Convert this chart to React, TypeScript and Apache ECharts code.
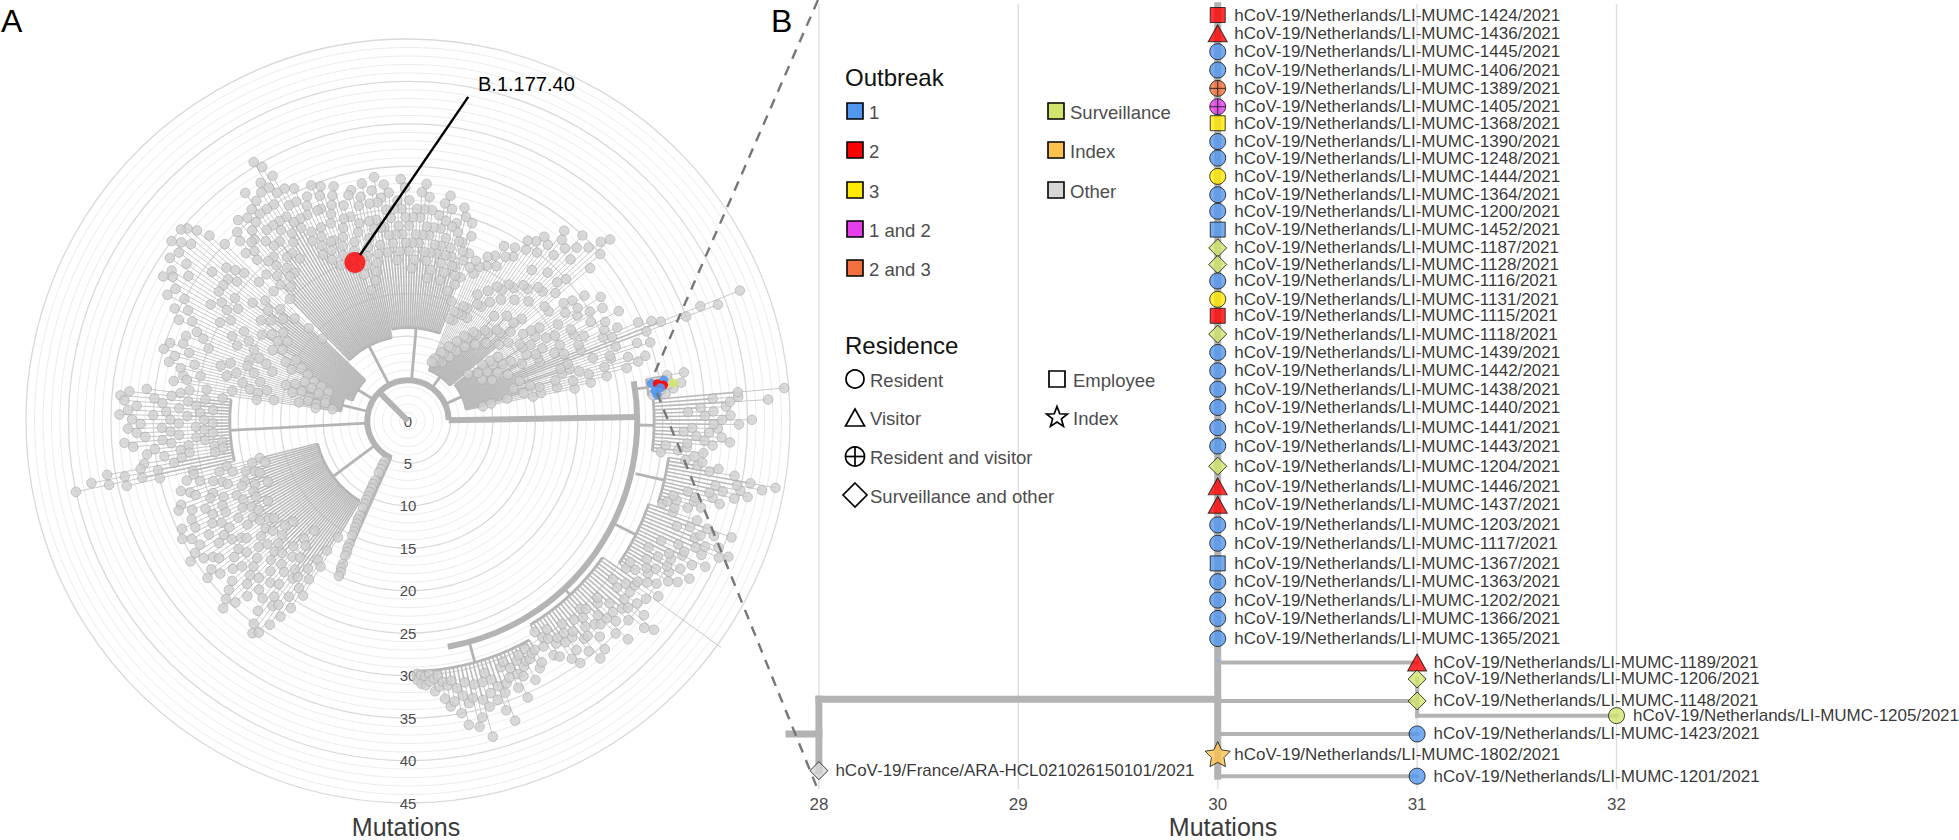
import React, { useEffect, useRef } from 'react';
import * as echarts from 'echarts';

const FONT = '"Liberation Sans", Arial, Helvetica, sans-serif';

// ---------------- Panel A: circular tree (radius = mutations, angle = degrees counter-clockwise from the south axis) ----------------
const cladeSpan: number[][] = [
  [2, 29], [31, 55], [56, 71], [72, 82], [83, 95], [96, 100], [101, 128], [130, 158],
  [160, 190], [191, 224], [226, 250], [251, 262], [263, 283], [284, 329], [330, 336],
];
const cladeBaseR = [27, 27, 27, 27.5, 27, 27, 4.8, 4.8, 4.8, 4.8, 4.8, 4.8, 4.8, 4.8, 4.8];
const cladeArcR = [29.5, 28, 30, 31, 29, 28.5, 7, 6.5, 11, 10, 7, 8, 21, 11, 4.8];
const cladeTipR: number[][] = [
  [30.5, 31, 31.2, 30.8, 32, 31.5, 33, 34, 33.5, 35, 36.5, 34, 37, 36, 38.5, 35, 33.5, 34.5, 36, 37.5, 33, 32.5, 34, 35.5, 33, 32, 34, 31.5, 33, 32.5],
  [31, 32.5, 33, 31.5, 34, 35, 33.5, 32, 34.5, 36, 33, 35.5, 34, 32.5, 33, 35, 36.5, 34, 33, 35, 37, 38, 36, 34.5, 33, 35, 45.5, 36],
  [34, 35, 33.5, 36, 37, 35.5, 38, 36.5, 35, 37.5, 39, 36, 38, 40, 41, 39.5, 37, 38.5, 40.5, 36],
  [33, 34.5, 36, 35, 38, 37, 39.5, 41, 40, 42.5, 44, 39, 37, 35],
  [34, 35, 33, 36, 38, 37, 35.5, 36.5, 39, 40.5, 38, 36, 37.5, 42.5, 39, 44.5],
  [30.5, 31.5, 32.5, 31, 33],
  [20, 22, 24, 26.5, 28, 29, 27, 25, 30, 28.5, 26, 39, 42, 31, 29.5, 27, 25.5, 23, 26, 28, 24.5, 22, 26.5, 25, 23.5, 27, 24, 22.5, 25.5, 24, 23, 21],
  [28, 30, 32, 31, 29.5, 27, 28.5, 30, 27.5, 26, 28, 29, 26.5, 25, 27, 26, 24.5, 25.5, 23, 24, 22.5, 21, 23.5, 22, 20.5, 21.5, 20, 19, 20.5, 19.5],
  [21, 23, 24.5, 22, 25, 26, 24, 23.5, 25.5, 27, 26, 24.5, 23, 25, 26.5, 28, 27, 25, 24, 26, 27.5, 28.5, 26, 25, 27, 28, 26.5, 29, 27.5, 26],
  [28.5, 27, 26, 28, 27.5, 25, 26.5, 29, 28, 27, 29.5, 28.5, 30, 27, 29, 28, 30.5, 29, 31, 33, 34.5, 35.5, 33, 32, 30, 31.5, 33, 31, 29.5, 30.5, 29, 31, 28, 30, 29, 27.5],
  [30, 32, 33.5, 34.5, 35, 33, 34, 35, 33.5, 32, 34, 31, 33, 32.5, 33.5, 31.5, 30, 32, 29, 30.5, 28, 29.5, 27, 26, 28, 25],
  [28, 29.5, 27, 30, 28.5, 26, 29, 27.5, 25, 27, 26.5, 28, 24, 26],
  [31, 33, 34, 33.5, 32, 33, 34, 32.5, 31.5, 33, 32, 31, 33.5, 32.5, 30, 31, 29, 31.5, 36, 38, 40, 34],
  [26, 27, 25.5, 28, 27, 26.5, 28.5, 29, 27.5, 26, 28, 29.5, 28, 30, 29, 27, 28.5, 29.5, 30.5, 29, 28, 27.5, 29, 30, 28.5, 27, 26, 28, 29, 30, 31, 29.5, 28, 26.5, 25, 27, 28.5, 30, 31, 30.5, 29, 27.5, 26, 24],
  [6, 7, 8.5, 9.5, 10.5, 11.5, 13, 14, 15, 16.5, 17.5, 19, 20],
];
// internal node radii along each tip's branch (first level)
const cladeNodeR: number[][] = [
  [29.8, 30, 30.2, 29.9, 30.5, 30.2, 31, 31.5, 31, 32, 33, 31.5, 33.5, 32, 34, 32, 31, 32, 33, 34, 31, 30.5, 31.5, 32.5, 31, 30.5, 31.5, 30.2, 31, 30.8],
  [29, 30, 30.5, 29.5, 31, 32, 31, 30, 31.5, 33, 30.5, 32, 31, 30, 30.5, 32, 33, 31, 30.5, 32, 33.5, 34, 33, 31.5, 30.5, 32, 33, 33],
  [31, 32, 31, 33, 34, 32.5, 35, 33.5, 32, 34.5, 36, 33, 35, 37, 38, 36.5, 34, 35.5, 37.5, 33],
  [31.5, 32, 33, 32.5, 35, 34, 36.5, 38, 37, 39.5, 41, 36, 34.5, 33],
  [30, 32, 30.5, 33, 35, 34, 32.5, 33.5, 36, 37, 35, 33, 34.5, 38, 36, 39],
  [29, 30, 31, 29.5, 31],
  [9, 10, 12, 14, 16, 18, 15, 13, 20, 19, 14, 30, 32, 22, 20, 17, 13, 11, 15, 17, 12, 10, 14, 13, 11, 16, 12, 10, 13, 12, 11, 9],
  [14, 16, 18, 17, 15, 13, 15, 17, 14, 12, 14, 16, 13, 11, 13, 12, 10, 12, 9, 11, 10, 8, 10, 9, 8, 9, 8, 7.5, 8, 7.5],
  [15, 17, 18, 16, 19, 20, 18, 17, 19, 21, 20, 18, 17, 19, 20, 22, 21, 19, 18, 20, 21, 22, 20, 19, 21, 22, 20, 23, 21, 20],
  [19, 18, 17, 20, 19, 16, 18, 21, 20, 19, 22, 21, 23, 20, 22, 21, 23, 22, 24, 26, 27, 28, 26, 25, 23, 24, 26, 24, 22, 23, 22, 24, 21, 23, 22, 20],
  [14, 16, 18, 20, 22, 19, 21, 23, 20, 18, 21, 17, 19, 18, 20, 17, 15, 18, 14, 16, 13, 15, 12, 11, 13, 10],
  [12, 14, 11, 15, 13, 10, 14, 12, 10, 12, 11, 13, 9, 11],
  [22, 24, 26, 25, 23, 24.5, 26, 24, 23, 25, 24, 23, 25, 24, 22, 23, 22, 23, 28, 30, 32, 26],
  [18, 19, 17.5, 20, 19, 18.5, 20.5, 21, 19.5, 18, 20, 21.5, 20, 22, 21, 19, 20.5, 21.5, 22.5, 21, 20, 19.5, 21, 22, 20.5, 19, 18, 20, 21, 22, 23, 21.5, 20, 18.5, 17, 19, 20.5, 22, 23, 22.5, 21, 19.5, 18, 16],
  [5.5, 6.5, 8, 9, 10, 11, 12.5, 13.5, 14.5, 16, 17, 18.5, 19.5],
];
// internal node radii along each tip's branch (second level)
const cladeNode2R: number[][] = [
  [], [], [], [], [], [],
  [15, 16, 18, 20, 22, 24, 21, 19, 25, 23, 20, 35, 37, 26, 25, 22, 19, 17, 20, 22, 18, 16, 20, 19, 17, 21, 18, 16, 19, 18, 17, 15],
  [21, 23, 25, 24, 22, 20, 22, 24, 21, 19, 21, 23, 20, 18, 20, 19, 17, 19, 16, 18, 16, 14, 17, 15, 14, 15, 14, 13, 14, 13],
  [18, 20, 21, 19, 22, 23, 21, 20, 22, 24, 23, 21, 20, 22, 23, 25, 24, 22, 21, 23, 24, 25, 23, 22, 24, 25, 23, 26, 24, 23],
  [24, 22, 21, 24, 23, 20, 22, 25, 24, 23, 26, 25, 27, 23, 25, 24, 27, 25, 27, 29, 31, 32, 30, 28, 27, 28, 30, 28, 26, 27, 25, 28, 25, 27, 26, 24],
  [22, 24, 26, 27, 28, 26, 27, 29, 27, 25, 27, 24, 26, 25, 27, 24, 22, 25, 21, 23, 20, 22, 19, 18, 20, 17],
  [20, 22, 19, 23, 21, 18, 22, 20, 17, 19, 18, 21, 16, 18],
  [27, 28, 30, 29, 27, 28.5, 30, 28, 27, 29, 28, 27, 29, 28, 26, 27, 26, 27, 32, 34, 36, 30],
  [22, 23, 21.5, 24, 23, 22.5, 24.5, 25, 23.5, 22, 24, 25.5, 24, 26, 25, 23, 24.5, 25.5, 26.5, 25, 24, 23.5, 25, 26, 24.5, 23, 22, 24, 25, 26, 27, 25.5, 24, 22.5, 21, 23, 24.5, 26, 27, 26.5, 25, 23.5, 22, 20],
  [],
];
// backbone arcs [radius, angleFrom, angleTo] and rays [angle, radiusFrom, radiusTo]
const backboneArcs: number[][] = [[4.8, 91, 336], [27, 10, 100]];
const backboneRays: number[][] = [[225, 0, 4.8], [91, 4.8, 27]];
// outbreak samples highlighted in panel A
const outbreakTipR = [29.0, 30.5, 31.6, 30.4, 29.5, 29.7, 29.3, 30.0];
const outbreakTipAngle = [98.8, 99.1, 98.1, 98.0, 96.0, 98.5, 97.0, 97.5];
const outbreakTipGroup = ['1', '1', 'Surveillance', '2', '1', '2', '1', '1'];
const lineageMarker = [19.7, 198.5];
const lineageName = 'B.1.177.40';

// ---------------- Panel B: zoomed tree ----------------
const bTipIds = ['1424', '1436', '1445', '1406', '1389', '1405', '1368', '1390', '1248', '1444', '1364', '1200', '1452', '1187', '1128', '1116', '1131', '1115', '1118', '1439', '1442', '1438', '1440', '1441', '1443', '1204', '1446', '1437', '1203', '1117', '1367', '1363', '1202', '1366', '1365', '1189', '1206', '1148', '1205', '1423', '1802', '1201', 'FR'];
const bTipX = [30, 30, 30, 30, 30, 30, 30, 30, 30, 30, 30, 30, 30, 30, 30, 30, 30, 30, 30, 30, 30, 30, 30, 30, 30, 30, 30, 30, 30, 30, 30, 30, 30, 30, 30, 31, 31, 31, 32, 31, 30, 31, 28];
const bTipRow = [1.0, 2.0, 3.0, 4.0, 5.0, 6.0, 6.9, 7.9, 8.8, 9.8, 10.8, 11.7, 12.7, 13.7, 14.6, 15.5, 16.5, 17.4, 18.4, 19.4, 20.4, 21.4, 22.4, 23.5, 24.5, 25.6, 26.7, 27.7, 28.8, 29.8, 30.9, 31.9, 32.9, 33.9, 35.0, 36.3, 37.2, 38.4, 39.2, 40.2, 41.3, 42.5, 42.2];
const bTipOutbreak = ['2', '2', '1', '1', '2 and 3', '1 and 2', '3', '1', '1', '3', '1', '1', '1', 'Surveillance', 'Surveillance', '1', '3', '2', 'Surveillance', '1', '1', '1', '1', '1', '1', 'Surveillance', '2', '2', '1', '1', '1', '1', '1', '1', '1', '2', 'Surveillance', 'Surveillance', 'Surveillance', '1', 'Index', '1', 'Other'];
const bTipResidence = ['Employee', 'Visitor', 'Resident', 'Resident', 'Resident and visitor', 'Resident and visitor', 'Employee', 'Resident', 'Resident', 'Resident', 'Resident', 'Resident', 'Employee', 'Surveillance and other', 'Surveillance and other', 'Resident', 'Resident', 'Employee', 'Surveillance and other', 'Resident', 'Resident', 'Resident', 'Resident', 'Resident', 'Resident', 'Surveillance and other', 'Visitor', 'Visitor', 'Resident', 'Resident', 'Employee', 'Resident', 'Resident', 'Resident', 'Resident', 'Visitor', 'Surveillance and other', 'Surveillance and other', 'Resident', 'Resident', 'Index', 'Resident', 'Surveillance and other'];
const franceLabel = 'hCoV-19/France/ARA-HCL021026150101/2021';
const bTrunk: number[][] = [[27.85, 40.2, 28, 40.2], [28, 38.3, 28, 42.2], [28, 38.3, 30, 38.3], [30, 0.5, 30, 42.5]];
const bTwigs: number[][] = [[30, 36.3, 31, 36.3], [30, 38.4, 31, 38.4], [31, 37.2, 31, 39.2], [31, 39.2, 32, 39.2], [30, 40.2, 31, 40.2], [30, 42.5, 31, 42.5]];
const bInnerNode = [30, 36.2];
const bGridX = [28, 29, 30, 31, 32];
const bTickLabels = [28, 29, 30, 31, 32];

// ---------------- legend ----------------
const outbreakNames = ['1', '2', '3', '1 and 2', '2 and 3', 'Surveillance', 'Index', 'Other'];
const outbreakColors = ['#5297ee', '#ff0000', '#ffea00', '#e43fea', '#f2703f', '#d3e46c', '#fcc24d', '#d6d6d6'];
const residenceNames = ['Resident', 'Visitor', 'Resident and visitor', 'Surveillance and other', 'Employee', 'Index'];

const STAR = 'path://M0,-10L2.94,-4.05L9.51,-3.09L4.76,1.55L5.88,8.09L0,5L-5.88,8.09L-4.76,1.55L-9.51,-3.09L-2.94,-4.05Z';
const CPLUS = 'path://M10,0A10,10,0,1,1,-10,0A10,10,0,1,1,10,0ZM0,-10L0,10M-10,0L10,0';
const residenceSymbol: Record<string, [string, number | number[]]> = {
  'Resident': ['circle', 16],
  'Visitor': ['triangle', [19, 17]],
  'Resident and visitor': [CPLUS, 16],
  'Surveillance and other': ['diamond', 18],
  'Employee': ['rect', 15],
  'Index': [STAR, 25],
};

const colorOf = (g: string) => outbreakColors[outbreakNames.indexOf(g)];

function txt(text: string, x: number, y: number, size: number, fill: string, align = 'left') {
  return {
    type: 'text', x, y, z: 100, silent: true,
    style: { text, fontSize: size, fontFamily: FONT, fill, align, verticalAlign: 'middle', textAlign: align, textVerticalAlign: 'middle' },
  };
}

function starPoints(cx: number, cy: number, ro: number, ri: number) {
  const pts: number[][] = [];
  for (let k = 0; k < 10; k++) {
    const r = k % 2 === 0 ? ro : ri;
    const a = -Math.PI / 2 + (k * Math.PI) / 5;
    pts.push([cx + r * Math.cos(a), cy + r * Math.sin(a)]);
  }
  return pts;
}

function buildOption() {
  // ---- panel A branches
  const branchItems: number[][] = [];
  backboneArcs.forEach(([r, v0, v1]) => branchItems.push([1, r, v0, v1, 3]));
  backboneRays.forEach(([v, r0, r1]) => branchItems.push([0, v, r0, r1, 3]));
  const dots: number[][] = [];
  cladeSpan.forEach(([v0, v1], c) => {
    const base = cladeBaseR[c];
    const arc = cladeArcR[c];
    const mid = (v0 + v1) / 2;
    if (arc > base) branchItems.push([0, mid, base, arc, 2]);
    branchItems.push([1, arc, v0, v1, 2]);
    const tips = cladeTipR[c];
    const n = tips.length;
    tips.forEach((t, i) => {
      const v = n > 1 ? v0 + ((v1 - v0) * i) / (n - 1) : mid;
      const n1 = cladeNodeR[c][i];
      const n2 = cladeNode2R[c][i];
      if (n1 !== undefined) {
        branchItems.push([0, v, arc, n1, 1]);
        branchItems.push([0, v, n1, t, 0]);
        dots.push([n1, v]);
      } else {
        branchItems.push([0, v, arc, t, 0]);
      }
      if (n2 !== undefined) dots.push([n2, v]);
      dots.push([t, v]);
    });
  });

  const widths = [0.9, 1.6, 2.8, 6];
  const colors = ['#c3c3c3', '#bababa', '#b4b4b4', '#b4b4b4'];
  const renderPolar = (params: any, api: any) => {
    const kind = api.value(0);
    const cs = params.coordSys;
    const wc = api.value(4);
    const style = { stroke: colors[wc], lineWidth: widths[wc], fill: null };
    if (kind === 0) {
      const v = api.value(1);
      const p0 = api.coord([api.value(2), v]);
      const p1 = api.coord([api.value(3), v]);
      return { type: 'line', shape: { x1: p0[0], y1: p0[1], x2: p1[0], y2: p1[1] }, style };
    }
    const R = api.value(1);
    const p0 = api.coord([R, api.value(2)]);
    const p1 = api.coord([R, api.value(3)]);
    const rp = Math.hypot(p0[0] - cs.cx, p0[1] - cs.cy);
    const s = Math.atan2(p1[1] - cs.cy, p1[0] - cs.cx);
    let e = Math.atan2(p0[1] - cs.cy, p0[0] - cs.cx);
    while (e < s) e += Math.PI * 2;
    return { type: 'arc', shape: { cx: cs.cx, cy: cs.cy, r: rp, startAngle: s, endAngle: e, clockwise: true }, style };
  };

  // ---- panel B
  const bBranchItems = [
    ...bTrunk.map((s) => [...s, 1]),
    ...bTwigs.map((s) => [...s, 0]),
  ];
  const bWidths = [4, 7];
  const bTipData = bTipIds.map((id, i) => {
    const [sym, size] = residenceSymbol[bTipResidence[i]];
    const half = Array.isArray(size) ? size[0] / 2 : size / 2;
    return {
      value: [bTipX[i], bTipRow[i]],
      name: id === 'FR' ? franceLabel : 'hCoV-19/Netherlands/LI-MUMC-' + id + '/2021',
      symbol: sym,
      symbolSize: size,
      itemStyle: { color: colorOf(bTipOutbreak[i]), borderColor: '#111', borderWidth: 1 },
      label: { distance: Math.max(2, 16 - half) },
    };
  });

  // ---- legend graphics
  const legend: any[] = [];
  legend.push(txt('Outbreak', 845, 77.5, 24, '#111'));
  const oSlots = [[847, 111], [847, 150], [847, 190], [847, 229], [847, 268], [1048, 111], [1048, 150], [1048, 190]];
  outbreakNames.forEach((nm, i) => {
    const [x, y] = oSlots[i];
    legend.push({ type: 'rect', z: 100, silent: true, shape: { x, y: y - 8, width: 16, height: 16 }, style: { fill: outbreakColors[i], stroke: '#000', lineWidth: 1.6 } });
    legend.push(txt(nm, x + 22, y + 1, 18.5, '#4d4d4d'));
  });
  legend.push(txt('Residence', 845, 345, 24, '#111'));
  const rSlots = [[855, 379], [855, 417.5], [855, 456.5], [855, 495], [1057, 379], [1057, 417.5]];
  const sty = { fill: '#fff', stroke: '#000', lineWidth: 1.7 };
  residenceNames.forEach((nm, i) => {
    const [x, y] = rSlots[i];
    if (nm === 'Resident') legend.push({ type: 'circle', z: 100, shape: { cx: x, cy: y, r: 9 }, style: sty });
    if (nm === 'Visitor') legend.push({ type: 'polygon', z: 100, shape: { points: [[x - 9.5, y + 8.5], [x, y - 8.5], [x + 9.5, y + 8.5]] }, style: sty });
    if (nm === 'Resident and visitor') {
      legend.push({ type: 'circle', z: 100, shape: { cx: x, cy: y, r: 9.5 }, style: sty });
      legend.push({ type: 'line', z: 101, shape: { x1: x - 9.5, y1: y, x2: x + 9.5, y2: y }, style: { stroke: '#000', lineWidth: 1.7 } });
      legend.push({ type: 'line', z: 101, shape: { x1: x, y1: y - 9.5, x2: x, y2: y + 9.5 }, style: { stroke: '#000', lineWidth: 1.7 } });
    }
    if (nm === 'Surveillance and other') legend.push({ type: 'polygon', z: 100, shape: { points: [[x, y - 12], [x + 12, y], [x, y + 12], [x - 12, y]] }, style: sty });
    if (nm === 'Employee') legend.push({ type: 'rect', z: 100, shape: { x: x - 8, y: y - 8, width: 16, height: 16 }, style: sty });
    if (nm === 'Index') legend.push({ type: 'polygon', z: 100, shape: { points: starPoints(x, y, 11, 4.6) }, style: sty });
    const tx = i < 4 ? 870 : 1073;
    legend.push(txt(nm, tx, y + 1, 18.5, '#4d4d4d'));
  });

  const graphic: any[] = [
    txt('A', 1, 21, 32, '#000'),
    txt('B', 771, 21, 32, '#000'),
    txt('Mutations', 406, 827, 25, '#3a3a3a', 'center'),
    txt('Mutations', 1223, 827, 25, '#3a3a3a', 'center'),
    txt(lineageName, 478, 84, 20, '#000'),
    { type: 'line', z: 100, silent: true, shape: { x1: 655, y1: 372, x2: 818, y2: 0 }, style: { stroke: '#777', lineWidth: 2.4, lineDash: [10, 8] } },
    { type: 'line', z: 100, silent: true, shape: { x1: 657, y1: 393, x2: 818, y2: 790 }, style: { stroke: '#777', lineWidth: 2.4, lineDash: [10, 8] } },
    ...legend,
  ];

  return {
    animation: false,
    backgroundColor: '#ffffff',
    textStyle: { fontFamily: FONT },
    polar: { center: [408, 421], radius: 382 },
    angleAxis: { type: 'value', min: 0, max: 360, startAngle: 270, clockwise: false, show: false },
    radiusAxis: {
      type: 'value', min: 0, max: 45, interval: 5,
      axisLine: { show: false }, axisTick: { show: false },
      axisLabel: { show: true, margin: 0, align: 'center', verticalAlign: 'middle', color: '#4d4d4d', fontSize: 15, fontFamily: FONT },
      splitLine: { show: true, lineStyle: { color: '#d9d9d9', width: 1.3 } },
      minorTick: { show: false, splitNumber: 5 },
      minorSplitLine: { show: true, lineStyle: { color: '#ececec', width: 1 } },
    },
    grid: { left: 789, top: 4, width: 1166.5, height: 785, containLabel: false },
    xAxis: {
      type: 'value', min: 27.85, max: 33.7,
      axisLine: { show: false }, axisTick: { show: false }, splitLine: { show: false },
      axisLabel: { customValues: bTickLabels, color: '#4d4d4d', fontSize: 17, margin: 7, fontFamily: FONT },
    },
    yAxis: { type: 'value', min: 0.4, max: 43.2, inverse: true, show: false },
    series: [
      { type: 'custom', coordinateSystem: 'polar', silent: true, z: 2, data: branchItems, renderItem: renderPolar },
      {
        type: 'scatter', coordinateSystem: 'polar', silent: true, z: 3, symbolSize: 9.5,
        itemStyle: { color: '#cfcfcf', borderColor: '#a8a8a8', borderWidth: 0.8 }, data: dots,
      },
      {
        type: 'scatter', coordinateSystem: 'polar', silent: true, z: 4, symbolSize: 9,
        data: outbreakTipR.map((r, i) => ({ value: [r, outbreakTipAngle[i]], itemStyle: { color: colorOf(outbreakTipGroup[i]), opacity: 0.9 } })),
      },
      {
        type: 'scatter', coordinateSystem: 'polar', silent: true, z: 5, symbolSize: 21,
        itemStyle: { color: '#ff0000' }, data: [lineageMarker],
      },
      {
        type: 'custom', coordinateSystem: 'cartesian2d', silent: true, z: 1, data: bGridX.map((x) => [x]),
        renderItem: (params: any, api: any) => {
          const x = api.value(0);
          const p0 = api.coord([x, 0.4]);
          const p1 = api.coord([x, 43.2]);
          return { type: 'line', shape: { x1: p0[0], y1: p0[1], x2: p1[0], y2: p1[1] }, style: { stroke: '#dedede', lineWidth: 1.4 } };
        },
      },
      {
        type: 'custom', coordinateSystem: 'cartesian2d', silent: true, z: 2, data: bBranchItems,
        renderItem: (params: any, api: any) => {
          const p0 = api.coord([api.value(0), api.value(1)]);
          const p1 = api.coord([api.value(2), api.value(3)]);
          const w = bWidths[api.value(4)];
          return { type: 'line', shape: { x1: p0[0], y1: p0[1], x2: p1[0], y2: p1[1] }, style: { stroke: '#b3b3b3', lineWidth: w, lineCap: 'square' } };
        },
      },
      {
        type: 'scatter', coordinateSystem: 'cartesian2d', silent: true, z: 3, symbolSize: 5,
        itemStyle: { color: '#9fb2cc' }, data: [bInnerNode],
      },
      {
        type: 'scatter', coordinateSystem: 'cartesian2d', silent: true, z: 4,
        label: { show: true, position: 'right', formatter: (p: any) => p.name, color: '#000', fontSize: 17, fontFamily: FONT },
        data: bTipData,
      },
    ],
    graphic,
  };
}

export default function App() {
  const ref = useRef<HTMLDivElement>(null);
  useEffect(() => {
    if (!ref.current) return;
    const chart = echarts.init(ref.current, null, { renderer: 'svg' });
    chart.setOption(buildOption() as any);
    let p: any = null;
    try {
      p = chart.convertToPixel({ seriesIndex: 3 } as any, lineageMarker as any);
    } catch (e) {
      p = null;
    }
    if (!p || !isFinite(p[0])) p = [355, 262];
    const dx = 113.3, dy = -165.6;
    const len = Math.hypot(dx, dy);
    chart.setOption({
      graphic: [
        { id: 'ptr', type: 'line', z: 100, silent: true, shape: { x1: p[0] + (dx / len) * 9, y1: p[1] + (dy / len) * 9, x2: p[0] + dx, y2: p[1] + dy }, style: { stroke: '#000', lineWidth: 2.4 } },
      ],
    } as any);
    return () => chart.dispose();
  }, []);
  return <div ref={ref} style={{ position: 'fixed', left: 0, top: 0, width: 1959, height: 840, background: '#fff' }} />;
}
